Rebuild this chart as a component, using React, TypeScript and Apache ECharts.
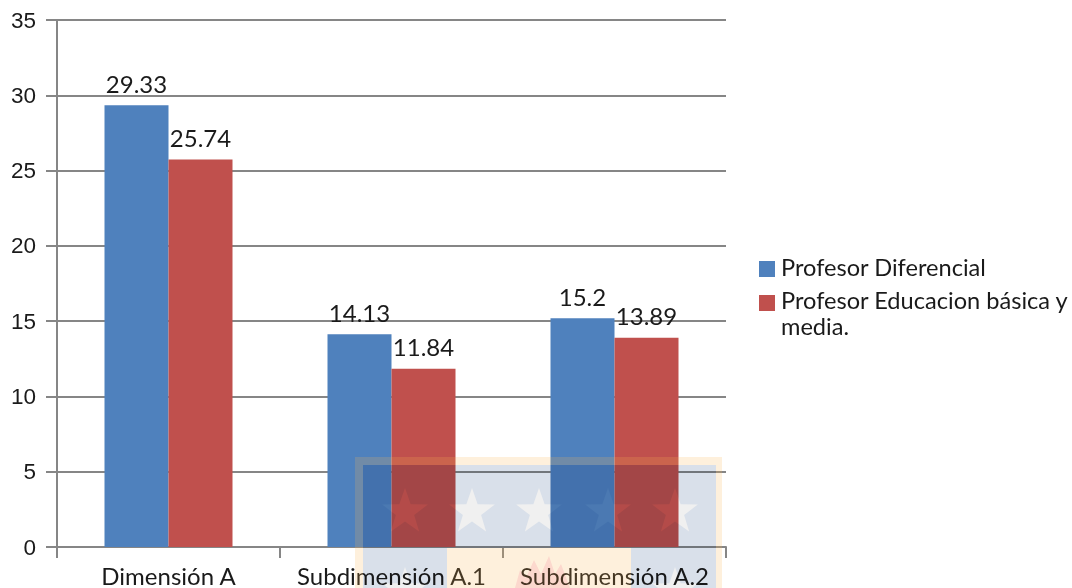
import React, { useEffect, useRef } from "react";
import * as echarts from "echarts";

const categories = ["Dimensión A", "Subdimensión A.1", "Subdimensión A.2"];
const seriesNames = ["Profesor Diferencial", "Profesor Educacion básica y media."];
const diferencial = [29.33, 14.13, 15.2];
const educacion = [25.74, 11.84, 13.89];
const diferencialLabels = ["29.33", "14.13", "15.2"];
const educacionLabels = ["25.74", "11.84", "13.89"];

const AXIS = "#868686";
const GRID = "#868686";
const TEXT = "#1a1a1a";
const LATO = "Lato, 'Open Sans', sans-serif";
const BAND = "rgba(250,180,80,0.2)";
const CANTON = "#d9e0ea";
const STAR = "#f0f0f0";

function star(cx: number, cy: number, r: number, fill: string) {
  const points: number[][] = [];
  for (let i = 0; i < 10; i++) {
    const a = -Math.PI / 2 + (i * Math.PI) / 5;
    const rr = i % 2 === 0 ? r : r * 0.4;
    points.push([cx + rr * Math.cos(a), cy + rr * Math.sin(a)]);
  }
  return { type: "polygon", silent: true, z: 5, shape: { points }, style: { fill } };
}

function rect(x: number, y: number, width: number, height: number, fill: string, z = 1) {
  return { type: "rect", silent: true, z, shape: { x, y, width, height }, style: { fill } };
}

function dataLabel(texts: string[]) {
  return {
    show: true,
    position: "top",
    distance: 10,
    color: TEXT,
    fontFamily: LATO,
    fontSize: 24,
    formatter: (p: any) => texts[p.dataIndex],
  };
}

export default function App() {
  const ref = useRef<HTMLDivElement>(null);
  const overlayRef = useRef<HTMLDivElement>(null);
  useEffect(() => {
    const chart = echarts.init(ref.current!, undefined, { renderer: "svg" });
    chart.setOption({
      animation: false,
      backgroundColor: "#ffffff",
      grid: { left: 57, right: 346, top: 20, bottom: 41, containLabel: false },
      legend: { show: false },
      xAxis: {
        type: "category",
        data: categories,
        axisLine: { lineStyle: { color: AXIS, width: 2 } },
        axisTick: { show: true, length: 11, alignWithLabel: false, lineStyle: { color: AXIS, width: 2 } },
        axisLabel: { color: TEXT, fontFamily: LATO, fontSize: 24, lineHeight: 20, margin: 18, interval: 0 },
      },
      yAxis: {
        type: "value",
        min: 0,
        max: 35,
        interval: 5,
        axisLine: { show: true, lineStyle: { color: AXIS, width: 2 } },
        axisTick: { show: true, length: 11, lineStyle: { color: AXIS, width: 2 } },
        splitLine: { show: true, lineStyle: { color: GRID, width: 2 } },
        axisLabel: { color: TEXT, fontFamily: "'Liberation Sans', Arial, sans-serif", fontSize: 22.5, margin: 21 },
      },
      series: [
        {
          name: seriesNames[0],
          type: "bar",
          data: diferencial,
          barWidth: 64,
          barGap: "0%",
          itemStyle: { color: "#4f81bd" },
          label: dataLabel(diferencialLabels),
        },
        {
          name: seriesNames[1],
          type: "bar",
          data: educacion,
          barWidth: 64,
          barGap: "0%",
          itemStyle: { color: "#c0504d" },
          label: dataLabel(educacionLabels),
        },
      ],
      graphic: [
        rect(355, 457, 367, 8, BAND, 49),
        rect(355, 465, 8, 123, BAND, 49),
        rect(716, 465, 6, 123, BAND, 49),
        rect(447, 548, 184, 40, BAND, 49),
        { type: "rect", z: 40, silent: true, shape: { x: 759, y: 261, width: 16, height: 16 }, style: { fill: "#4f81bd" } },
        { type: "rect", z: 40, silent: true, shape: { x: 759, y: 295, width: 16, height: 16 }, style: { fill: "#c0504d" } },
        { type: "text", z: 40, silent: true, x: 781, y: 255, style: { text: "Profesor Diferencial", fill: TEXT, font: "23.6px " + LATO } },
        { type: "text", z: 40, silent: true, x: 781, y: 287, style: { text: "Profesor Educacion básica y\nmedia.", fill: TEXT, font: "23.6px " + LATO, lineHeight: 26 } },
      ],
    });

    const overlay = echarts.init(overlayRef.current!, undefined, { renderer: "svg" });
    overlay.setOption({
      animation: false,
      graphic: [
        {
          type: "group",
          silent: true,
          children: [
            rect(363, 465, 353, 83, CANTON),
            rect(363, 548, 84, 40, CANTON),
            rect(631, 548, 85, 40, CANTON),
            star(405, 512, 24, STAR),
            star(472, 512, 24, STAR),
            star(539, 512, 24, STAR),
            star(608, 512, 24, STAR),
            star(675, 512, 24, STAR),
            star(405, 591, 24, STAR),
            star(675, 591, 24, STAR),
            {
              type: "polygon",
              silent: true,
              z: 5,
              shape: {
                points: [
                  [515, 588], [520, 570], [526, 578], [534, 560], [541, 574], [549, 556],
                  [555, 574], [561, 564], [567, 580], [570, 588],
                ],
              },
              style: { fill: "#fde6ee" },
            },
          ],
        },
      ],
    });

    return () => {
      chart.dispose();
      overlay.dispose();
    };
  }, []);
  return (
    <div style={{ position: "fixed", left: 0, top: 0, width: 1072, height: 588, isolation: "isolate" }}>
      <div ref={ref} style={{ position: "absolute", left: 0, top: 0, width: 1072, height: 588 }} />
      <div
        ref={overlayRef}
        style={{ position: "absolute", left: 0, top: 0, width: 1072, height: 588, mixBlendMode: "multiply", pointerEvents: "none" }}
      />
    </div>
  );
}
